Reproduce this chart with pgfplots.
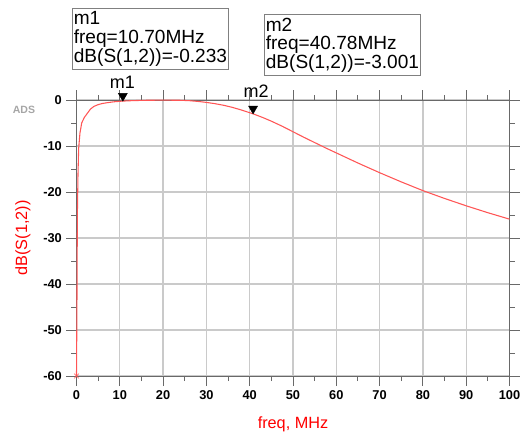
\documentclass[border=0pt]{standalone}
\usepackage{fontspec}
\setmainfont{Liberation Sans}
\usepackage{pgfplots}
\pgfplotsset{compat=1.18}
\definecolor{curvec}{RGB}{255,85,85}
\definecolor{gridc}{RGB}{202,202,202}
\definecolor{axc}{RGB}{105,105,105}
\definecolor{boxc}{RGB}{128,128,128}
\begin{document}
\begin{tikzpicture}
\useasboundingbox (0pt,0pt) rectangle (391.5pt,324.75pt);
\begin{axis}[
  at={(57.375pt,42.75pt)}, anchor=south west,
  scale only axis, width=324.75pt, height=207pt,
  axis lines=box,
  xmin=0, xmax=100, ymin=-60, ymax=0,
  xtick={0,10,...,100}, ytick={-60,-50,...,0},
  minor xtick={5,15,...,95}, minor ytick={-55,-45,...,-5},
  tick align=outside, major tick length=7.5pt, minor tick length=3.75pt,
  tick style={axc, line width=0.75pt},
  grid=major,
  major grid style={draw=gridc, line width=1pt},
  axis line style={draw=axc, line width=0.75pt},
  tick label style={black, font=\fontsize{9.6}{11}\selectfont\bfseries},
  /pgf/number format/assume math mode=true,
  xlabel={freq, MHz}, ylabel={dB(S(1,2))},
  label style={red, font=\fontsize{12.2}{14}\selectfont},
  xlabel style={at={(axis description cs:0.5,-0.174)}, anchor=center},
  ylabel style={at={(axis description cs:-0.124,0.5)}, anchor=center},
  clip=false,
]
\addplot[curvec, line width=0.8pt] coordinates {
(0,-60) (0.1,-45) (0.2,-25) (0.35,-16) (0.5,-10.5) (0.8,-7.2) (1.2,-5.0)
(1.8,-3.8) (2.5,-2.9) (3.2,-2.0) (4,-1.4) (5,-1.0) (6,-0.75) (7,-0.6)
(8.5,-0.4) (10.7,-0.233) (13,-0.13) (16,-0.06) (20,-0.03) (24,-0.06)
(26,-0.14) (28,-0.3) (30,-0.52) (32,-0.8) (34,-1.15) (36,-1.6) (38,-2.15)
(40.78,-3.001) (43,-3.8) (45,-4.6) (47.5,-5.7) (50,-6.9) (52.5,-8.1)
(55,-9.25) (57.5,-10.4) (60,-11.5) (65,-13.7) (70,-15.8) (75,-17.8)
(80,-19.7) (85,-21.4) (90,-23.0) (95,-24.5) (100,-25.9)
};
\addplot[only marks, mark=x, red!70, mark size=2.5pt] coordinates {(0,-60)};
\addplot[only marks, black, mark=triangle*, mark size=3.8pt,
  mark options={yshift=3.8pt, rotate=180, draw=none, fill=black}]
  coordinates {(10.7,-0.233) (40.78,-3.001)};
\node[anchor=base, font=\fontsize{13.5}{15}\selectfont] at (axis cs:10.6,2.4) {m1};
\node[anchor=base, font=\fontsize{13.5}{15}\selectfont] at (axis cs:41.5,0.55) {m2};
\end{axis}
\node[font=\fontsize{7.9}{9}\selectfont\bfseries, text=gray!70] at (18pt,242.25pt) {ADS};
\node[draw=boxc, line width=0.75pt, fill=white, anchor=north west, inner xsep=1pt,
  inner ysep=2.5pt, align=left, font=\fontsize{14.3}{14}\selectfont]
  at (54pt,318.75pt) {m1\\freq=10.70MHz\\dB(S(1,2))=-0.233};
\node[draw=boxc, line width=0.75pt, fill=white, anchor=north west, inner xsep=1pt,
  inner ysep=2.5pt, align=left, font=\fontsize{14.3}{14}\selectfont]
  at (198pt,314.25pt) {m2\\freq=40.78MHz\\dB(S(1,2))=-3.001};
\end{tikzpicture}
\end{document}
